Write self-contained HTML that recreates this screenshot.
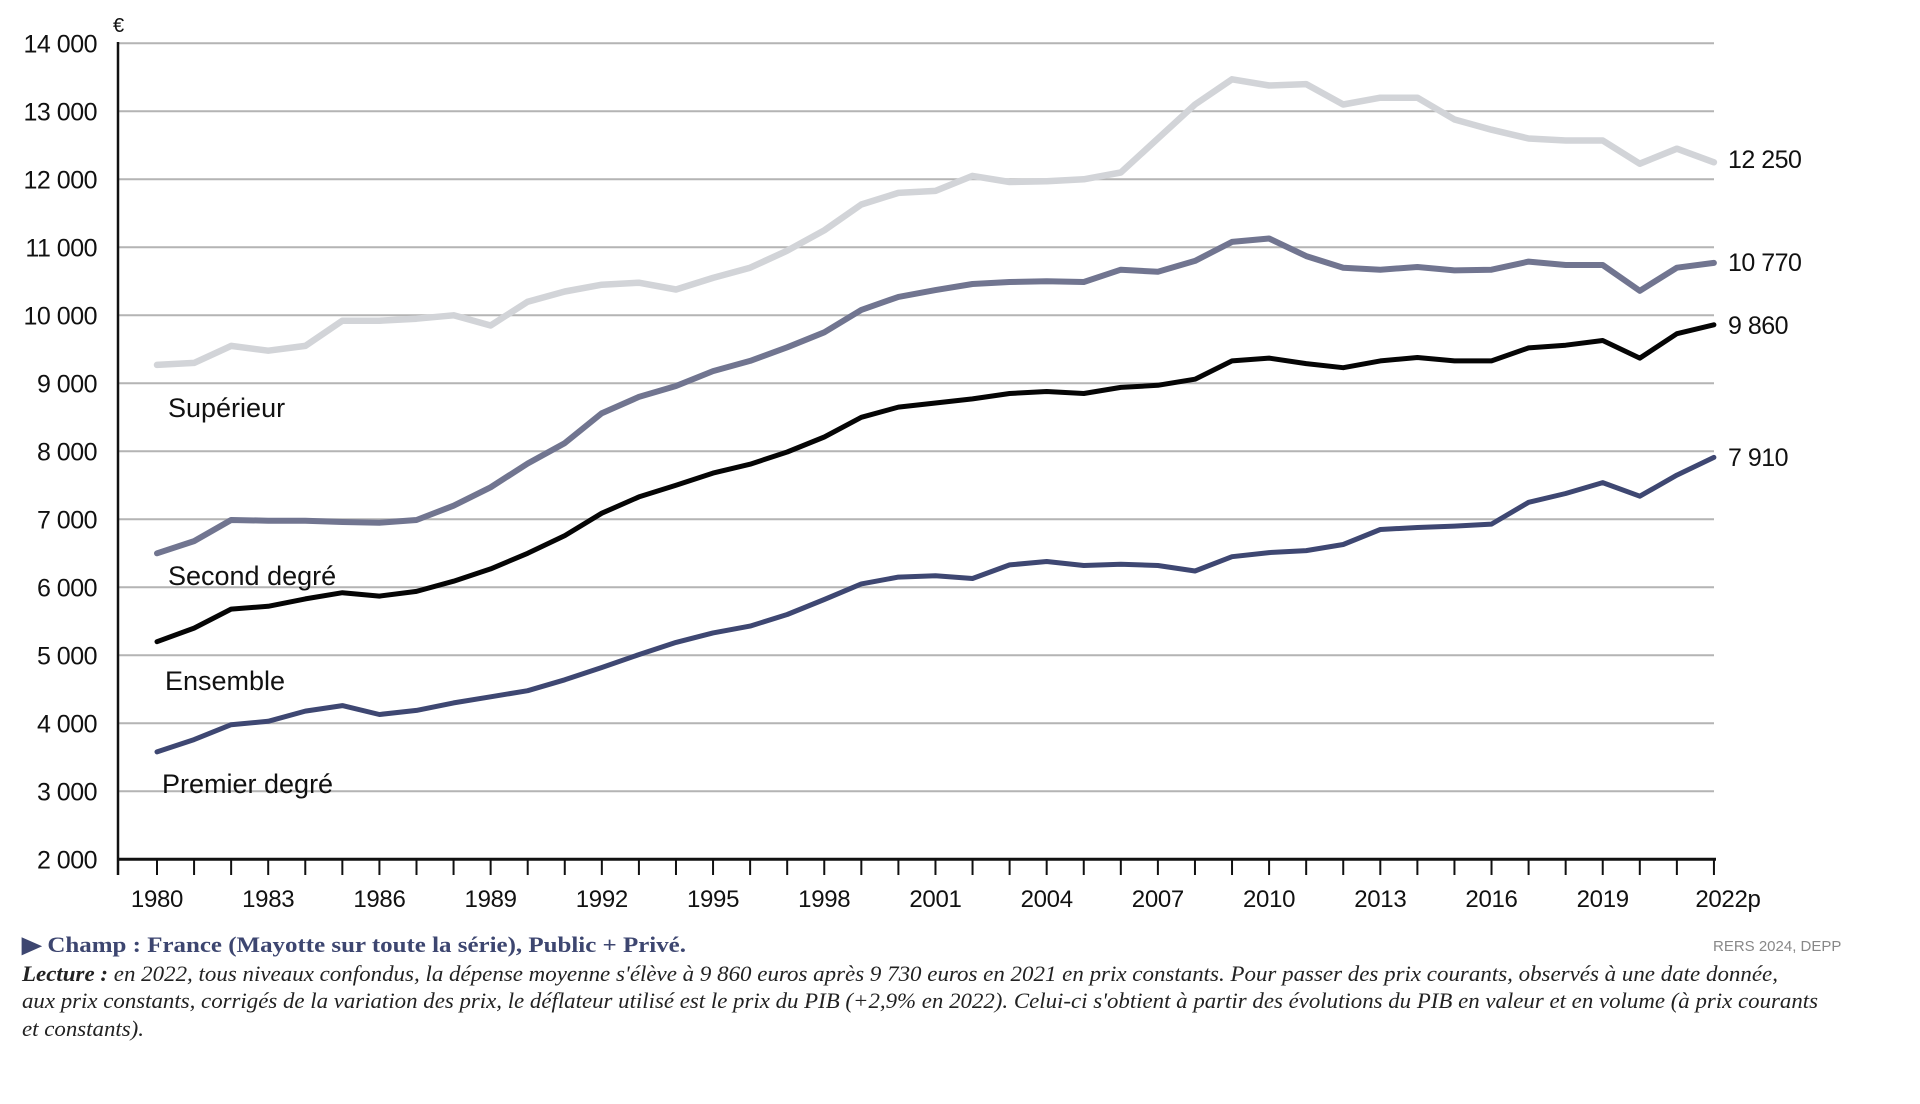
<!DOCTYPE html>
<html><head><meta charset="utf-8"><style>
html,body{margin:0;padding:0;background:#fff;width:1920px;height:1104px;overflow:hidden}
svg{display:block}
</style></head><body>
<svg id="c" width="1920" height="1104" xmlns="http://www.w3.org/2000/svg">
<g id="grid"></g>
<g id="series" fill="none" stroke-linejoin="round" stroke-linecap="round"></g>
<g font-family="Liberation Sans, sans-serif" fill="#111">
<text x="113" y="32" font-size="20">€</text>
<text x="168" y="417" font-size="27">Supérieur</text>
<text x="168" y="585" font-size="27">Second degré</text>
<text x="165" y="690" font-size="27">Ensemble</text>
<text x="162" y="793" font-size="27">Premier degré</text>
<text x="1728" y="168" font-size="25" letter-spacing="-0.5">12 250</text>
<text x="1728" y="271" font-size="25" letter-spacing="-0.5">10 770</text>
<text x="1728" y="334" font-size="25" letter-spacing="-0.5">9 860</text>
<text x="1728" y="466" font-size="25" letter-spacing="-0.5">7 910</text>
<text x="1713" y="951" font-size="15" fill="#888">RERS 2024, DEPP</text>
</g>
<g font-family="Liberation Serif, serif" font-size="22">
<text x="22" y="952" fill="#3d4670" font-weight="bold" textLength="664" lengthAdjust="spacingAndGlyphs">▶ Champ : France (Mayotte sur toute la série), Public + Privé.</text>
<text x="22" y="981" font-style="italic" fill="#222" textLength="1756" lengthAdjust="spacingAndGlyphs"><tspan font-weight="bold">Lecture :</tspan> en 2022, tous niveaux confondus, la dépense moyenne s'élève à 9 860 euros après 9 730 euros en 2021 en prix constants. Pour passer des prix courants, observés à une date donnée,</text>
<text x="22" y="1008" font-style="italic" fill="#222" textLength="1796" lengthAdjust="spacingAndGlyphs">aux prix constants, corrigés de la variation des prix, le déflateur utilisé est le prix du PIB (+2,9% en 2022). Celui-ci s'obtient à partir des évolutions du PIB en valeur et en volume (à prix courants</text>
<text x="22" y="1036" font-style="italic" fill="#222" textLength="122" lengthAdjust="spacingAndGlyphs">et constants).</text>
</g>
</svg>
<script>
var NS="http://www.w3.org/2000/svg";
function X(yr){return 157+(yr-1980)*37.07;}
function Y(v){return 43.3+(14000-v)*0.068;}
function el(t,a,p,txt){var e=document.createElementNS(NS,t);for(var k in a)e.setAttribute(k,a[k]);if(txt!=null)e.textContent=txt;p.appendChild(e);return e;}
var g=document.getElementById('grid');
for(var v=3000;v<=14000;v+=1000){el('line',{x1:119,x2:1714,y1:Y(v),y2:Y(v),stroke:'#b4b4b4','stroke-width':2},g);}
for(var v=2000;v<=14000;v+=1000){var s=(v>=10000?Math.floor(v/1000)+' 000':(v/1000)+' 000');
el('text',{x:97,y:Y(v)+9,'font-size':25,'text-anchor':'end','font-family':'Liberation Sans, sans-serif',fill:'#111','letter-spacing':'-0.5'},g,s);}
el('line',{x1:118,x2:118,y1:42,y2:875,stroke:'#111','stroke-width':2.5},g);
el('line',{x1:117,x2:1716,y1:Y(2000),y2:Y(2000),stroke:'#111','stroke-width':3},g);
for(var yr=1980;yr<=2022;yr++){el('line',{x1:X(yr),x2:X(yr),y1:Y(2000),y2:875,stroke:'#111','stroke-width':2},g);
if((yr-1980)%3==0){el('text',{x:X(yr)+(yr==2022?14:0),y:907,'font-size':24,'text-anchor':'middle','font-family':'Liberation Sans, sans-serif',fill:'#111','letter-spacing':'-0.3'},g,yr==2022?'2022p':String(yr));}}
var D={
sup:[9270,9300,9550,9480,9550,9920,9920,9950,10000,9850,10200,10350,10450,10480,10380,10550,10700,10950,11250,11630,11800,11830,12050,11960,11970,12000,12100,12600,13100,13470,13380,13400,13100,13200,13200,12880,12730,12600,12570,12570,12230,12450,12250],
sec:[6500,6680,6990,6980,6980,6960,6950,6990,7200,7470,7820,8120,8560,8800,8960,9180,9330,9530,9750,10080,10270,10370,10460,10490,10500,10490,10670,10640,10800,11080,11130,10870,10700,10670,10710,10660,10670,10790,10740,10740,10360,10700,10770],
ens:[5200,5400,5680,5720,5830,5920,5870,5940,6090,6270,6500,6760,7090,7330,7500,7680,7810,7990,8210,8500,8650,8710,8770,8850,8880,8850,8940,8970,9060,9330,9370,9290,9230,9330,9380,9330,9330,9520,9560,9630,9370,9730,9860],
pre:[3580,3760,3980,4030,4180,4260,4130,4190,4300,4390,4480,4640,4820,5010,5190,5330,5430,5600,5820,6050,6150,6170,6130,6330,6380,6320,6340,6320,6240,6450,6510,6540,6630,6850,6880,6900,6930,7250,7380,7540,7340,7650,7910]};
var S=[['sup','#d2d4d8',6.5],['sec','#717590',6],['ens','#050505',5],['pre','#3e4772',5]];
var sg=document.getElementById('series');
S.forEach(function(s){var pts=D[s[0]].map(function(v,i){return X(1980+i).toFixed(1)+','+Y(v).toFixed(1);}).join(' ');
el('polyline',{points:pts,stroke:s[1],'stroke-width':s[2]},sg);});
</script>
</body></html>
